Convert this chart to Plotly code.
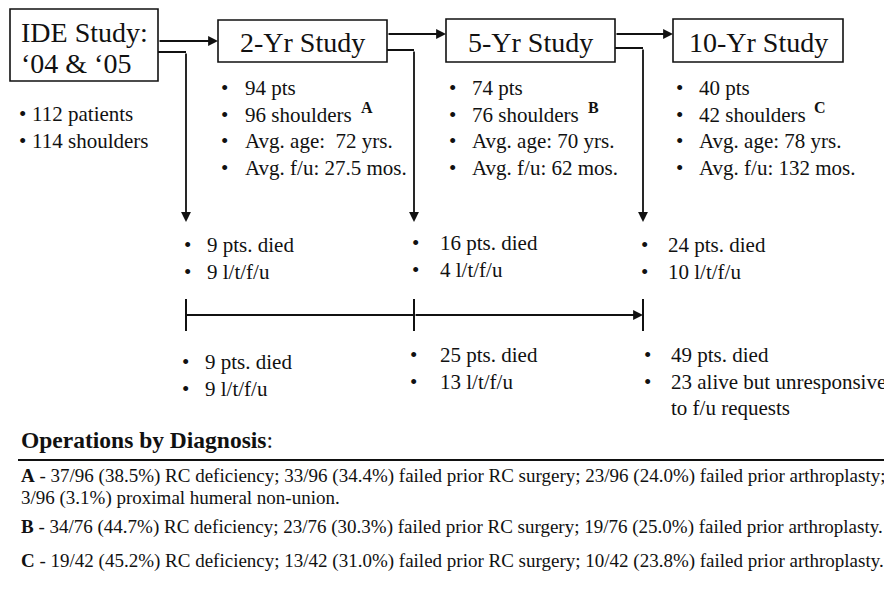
import plotly.graph_objects as go

# ---------------- data ----------------
ide_label = ["IDE Study:", "\u201804 & \u201805"]
ide_patients = 112
ide_shoulders = 114

stages = ["2-Yr Study", "5-Yr Study", "10-Yr Study"]
stage_pts = [94, 74, 40]
stage_shoulders = [96, 76, 42]
stage_age = [72, 70, 78]
stage_fu = ["27.5", "62", "132"]
stage_keys = ["A", "B", "C"]

interval_died = [9, 16, 24]
interval_ltfu = [9, 4, 10]
cumulative_died = [9, 25, 49]
cumulative_lost = [9, 13, 23]
cumulative_lost_label = ["l/t/f/u", "l/t/f/u", "alive but unresponsive"]

diag_total = [96, 76, 42]
diag_rc_deficiency = [37, 34, 19]
diag_failed_rc = [33, 23, 13]
diag_failed_arthro = [23, 19, 10]
diag_nonunion = [3, 0, 0]

# ---------------- figure ----------------
FONT = "Liberation Serif"
INK = "#111111"
PAGE_W, PAGE_H = 892, 590
BODY = 8  # default page margin of the html body
W, H = PAGE_W - BODY, PAGE_H - 2 * BODY

fig = go.Figure()
fig.add_trace(go.Scatter(x=[BODY, PAGE_W], y=[BODY, BODY + H], mode="markers",
                         marker=dict(opacity=0), hoverinfo="skip", showlegend=False))

shapes = []
annotations = []


def txt(x, y, s, size=21, anchor="left", bold=False):
    if bold:
        s = "<b>" + s + "</b>"
    annotations.append(dict(x=x, y=y, xref="x", yref="y", text=s,
                            showarrow=False, xanchor=anchor, yanchor="middle",
                            font=dict(family=FONT, size=size, color=INK)))


def line(x0, y0, x1, y1, w=2):
    shapes.append(dict(type="line", x0=x0, y0=y0, x1=x1, y1=y1, xref="x", yref="y",
                       line=dict(color=INK, width=w)))


def rect(x0, y0, x1, y1):
    shapes.append(dict(type="rect", x0=x0, y0=y0, x1=x1, y1=y1, xref="x", yref="y",
                       line=dict(color=INK, width=1.6), fillcolor="white"))


def arrow(x0, y0, x1, y1):
    annotations.append(dict(x=x1, y=y1, ax=x0, ay=y0, xref="x", yref="y",
                            axref="x", ayref="y", text="", showarrow=True,
                            arrowhead=2, arrowsize=1.1, arrowwidth=1.8,
                            arrowcolor=INK, standoff=0, startstandoff=0))


def bullet(xb, xt, y, s, size=21):
    txt(xb, y, "\u2022", size=size, anchor="center")
    txt(xt, y, s, size=size)


# IDE box
rect(10, 9, 158, 81)
txt(19, 32, ide_label[0], size=28)
txt(19, 63, ide_label[1], size=28)
txt(22, 114, "\u2022", size=21, anchor="center")
txt(30, 114, f"{ide_patients} patients")
txt(22, 141, "\u2022", size=21, anchor="center")
txt(30, 141, f"{ide_shoulders} shoulders")

# stage boxes
boxes = [(218, 20, 387, 62), (446, 19, 615, 62), (673, 19, 843, 62)]
bullet_x = [224, 452, 679]
text_x = [243, 470, 697]
sup_x = [359, 586, 812]
row_y = [88, 114.5, 141, 167.5]
for i, (x0, y0, x1, y1) in enumerate(boxes):
    rect(x0, y0, x1, y1)
    txt((x0 + x1) / 2, 42, stages[i], size=28, anchor="center")
    age_sep = ":\u00a0\u00a0" if i == 0 else ": "
    rows = [f"{stage_pts[i]} pts", f"{stage_shoulders[i]} shoulders",
            f"Avg. age{age_sep}{stage_age[i]} yrs.", f"Avg. f/u: {stage_fu[i]} mos."]
    for r, s in enumerate(rows):
        bullet(bullet_x[i], text_x[i], row_y[r], s)
    txt(sup_x[i], 107, stage_keys[i], size=16, bold=True)

# horizontal arrows between boxes
arrow(158, 41, 218, 41)
arrow(387, 34, 446, 34)
arrow(615, 34, 673, 34)

# drop lines
drop_x = [186, 414, 643]
drop_from = [(158, 52), (387, 50), (615, 48)]
for (sx, sy), dx in zip(drop_from, drop_x):
    line(sx, sy, dx, sy)
    arrow(dx, sy, dx, 222)

# interval losses
mid_bx = [187, 415, 644]
mid_tx = [205, 438, 666]
for i in range(3):
    y0 = 245 if i != 1 else 243
    bullet(mid_bx[i], mid_tx[i], y0, f"{interval_died[i]} pts. died")
    bullet(mid_bx[i], mid_tx[i], y0 + 27, f"{interval_ltfu[i]} l/t/f/u")

# timeline
line(186, 315, 414, 315)
arrow(414, 315, 643, 315)
for x in drop_x:
    line(x, 299, x, 331)

# cumulative losses
bot_bx = [185, 413, 647]
bot_tx = [203, 438, 669]
bot_y = [362, 355, 355]
for i in range(3):
    bullet(bot_bx[i], bot_tx[i], bot_y[i], f"{cumulative_died[i]} pts. died")
    bullet(bot_bx[i], bot_tx[i], bot_y[i] + 27,
           f"{cumulative_lost[i]} {cumulative_lost_label[i]}")
txt(bot_tx[2], 408, "to f/u requests")

# operations by diagnosis
txt(19, 440, "<b>Operations by Diagnosis</b>:", size=23.5)
line(18, 460, PAGE_W, 460, w=2)


def pct(n, d):
    return f"{n}/{d} ({100 * n / d:.1f}%)"


diag_y = [476, 527, 561]
for i, k in enumerate(stage_keys):
    d = diag_total[i]
    parts = (f"<b>{k}</b> - {pct(diag_rc_deficiency[i], d)} RC deficiency; "
             f"{pct(diag_failed_rc[i], d)} failed prior RC surgery; "
             f"{pct(diag_failed_arthro[i], d)} failed prior arthroplasty")
    if diag_nonunion[i]:
        txt(19, diag_y[i], parts + ";", size=19)
        txt(19, diag_y[i] + 22, f"{pct(diag_nonunion[i], d)} proximal humeral non-union.", size=19)
    else:
        txt(19, diag_y[i], parts + ".", size=19)

fig.update_layout(
    width=W, height=H,
    margin=dict(l=0, r=0, t=0, b=0, autoexpand=False),
    font=dict(family=FONT, color=INK),
    paper_bgcolor="white", plot_bgcolor="white",
    xaxis=dict(range=[BODY, PAGE_W], visible=False, fixedrange=True),
    yaxis=dict(range=[BODY + H, BODY], visible=False, fixedrange=True),
    shapes=shapes, annotations=annotations, showlegend=False,
)

fig.write_html("out.html")
